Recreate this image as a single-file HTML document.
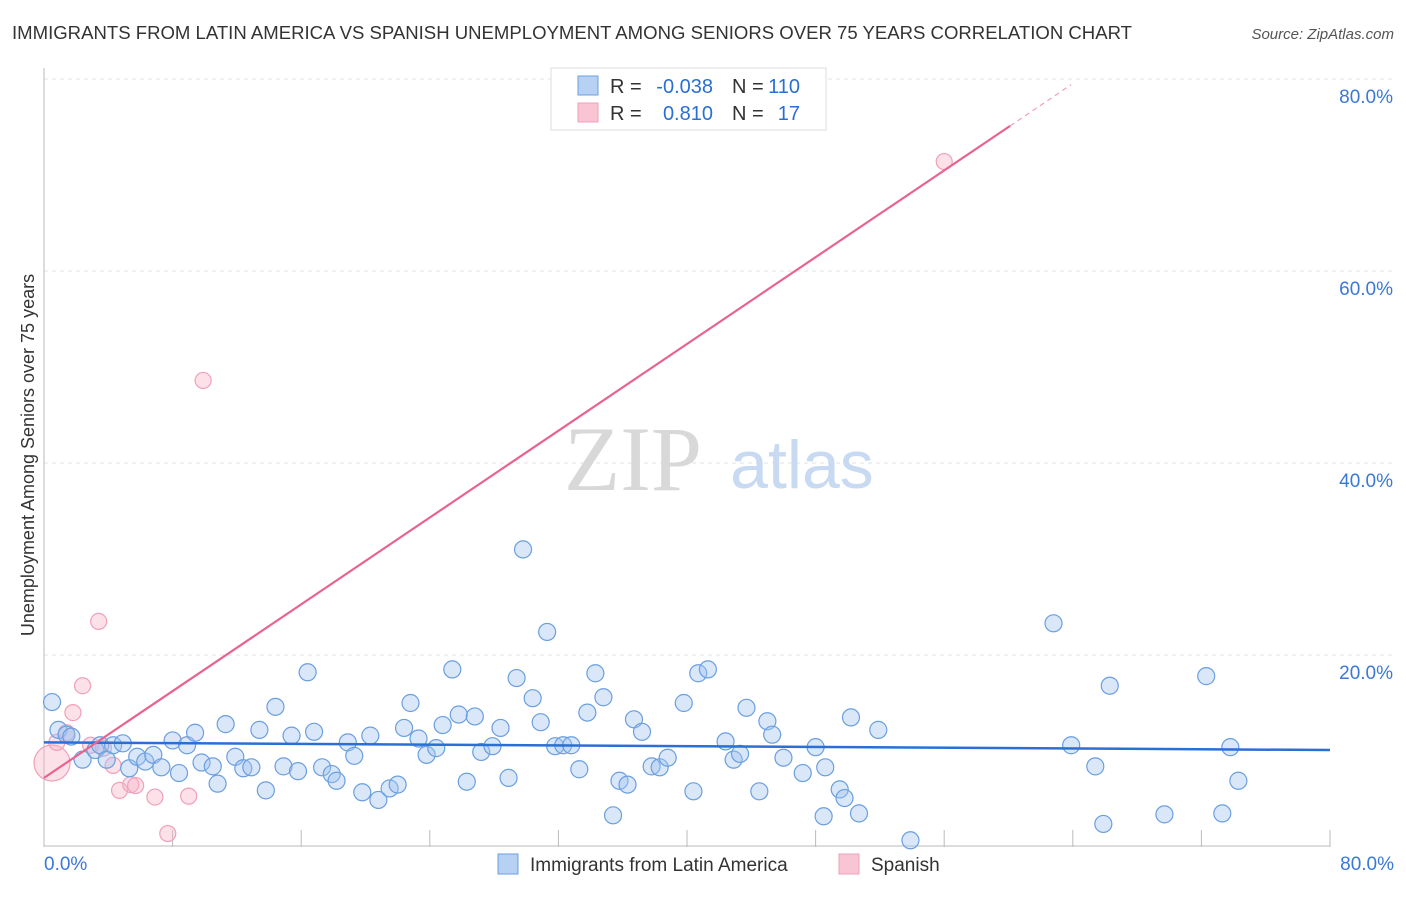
<!DOCTYPE html>
<html><head><meta charset="utf-8"><style>
body{margin:0;background:#fff;font-family:"Liberation Sans",sans-serif;}
</style></head><body>
<svg id="chart" width="1406" height="892" xmlns="http://www.w3.org/2000/svg" font-family="Liberation Sans, sans-serif">
<text x="12" y="39" font-size="18" fill="#333" textLength="1120" lengthAdjust="spacingAndGlyphs">IMMIGRANTS FROM LATIN AMERICA VS SPANISH UNEMPLOYMENT AMONG SENIORS OVER 75 YEARS CORRELATION CHART</text>
<text x="1394" y="39" font-size="15" fill="#555" font-style="italic" text-anchor="end">Source: ZipAtlas.com</text>
<g id="grid"></g>
<g><text x="633" y="490" font-size="92" fill="#d8d8d8" style="font-family:'Liberation Serif',serif" text-anchor="middle">ZIP</text><text x="802" y="488" font-size="68" fill="#c8d9f2" text-anchor="middle">atlas</text></g>
<g id="marks"></g>
<text transform="translate(34,455) rotate(-90)" font-size="18" fill="#333" text-anchor="middle">Unemployment Among Seniors over 75 years</text>
<g>
<rect x="551" y="68" width="275" height="62" fill="#fff" stroke="#ddd"/>
<rect x="578" y="76" width="20" height="19" fill="#b7d1f5" stroke="#6a9fe0"/>
<rect x="578" y="103" width="20" height="19" fill="#f9c5d5" stroke="#f0a0b8"/>
<text x="610" y="93" font-size="20" fill="#333">R =</text>
<text x="713" y="93" font-size="20" fill="#2a6fd6" text-anchor="end">-0.038</text>
<text x="732" y="93" font-size="20" fill="#333">N =</text>
<text x="800" y="93" font-size="20" fill="#2a6fd6" text-anchor="end">110</text>
<text x="610" y="120" font-size="20" fill="#333">R =</text>
<text x="713" y="120" font-size="20" fill="#2a6fd6" text-anchor="end">0.810</text>
<text x="732" y="120" font-size="20" fill="#333">N =</text>
<text x="800" y="120" font-size="20" fill="#2a6fd6" text-anchor="end">17</text>
</g>
<g>
<rect x="498" y="854" width="20" height="20" fill="#b7d1f5" stroke="#6a9fe0"/>
<text x="530" y="871" font-size="19" fill="#333">Immigrants from Latin America</text>
<rect x="839" y="854" width="20" height="20" fill="#f9c5d5" stroke="#f0a0b8"/>
<text x="871" y="871" font-size="19" fill="#333">Spanish</text>
</g>
</svg>
<script>
const yTicks=[20,40,60,80];
const xTickLabels=["0.0%","80.0%"];
const blueX=[0.5,0.9,1.4,1.7,2.4,3.2,3.5,3.9,4.3,4.9,5.3,5.8,6.3,6.8,7.3,8.0,8.4,8.9,9.4,9.8,10.5,10.8,11.3,11.9,12.4,12.9,13.4,13.8,14.4,14.9,15.4,15.8,16.4,16.8,17.3,17.9,18.2,18.9,19.3,19.8,20.3,20.8,21.5,22.0,22.4,22.8,23.3,23.8,24.4,24.8,25.4,25.8,26.3,26.8,27.2,27.9,28.4,28.9,29.4,29.8,30.4,30.9,31.3,31.8,32.3,32.8,33.3,33.8,34.3,34.8,35.4,35.8,36.3,36.7,37.2,37.8,38.3,38.8,39.8,40.4,40.7,41.3,42.4,42.9,43.3,43.7,44.5,45.0,45.3,46.0,47.2,48.0,48.5,48.6,49.5,49.8,50.2,50.7,51.9,53.9,62.8,63.9,65.4,65.9,66.3,69.7,72.3,73.3,73.8,74.3];
const blueY=[15.1,12.2,11.7,11.5,9.1,10.1,10.6,9.1,10.6,10.8,8.2,9.4,8.9,9.6,8.3,11.1,7.7,10.6,11.9,8.8,8.4,6.6,12.8,9.4,8.2,8.3,12.2,5.9,14.6,8.4,11.6,7.9,18.2,12.0,8.3,7.6,6.9,10.9,9.5,5.7,11.6,4.9,6.1,6.5,12.4,15.0,11.3,9.6,10.3,12.7,18.5,13.8,6.8,13.6,9.9,10.5,12.4,7.2,17.6,31.0,15.5,13.0,22.4,10.5,10.6,10.6,8.1,14.0,18.1,15.6,3.3,6.9,6.5,13.3,12.0,8.4,8.3,9.3,15.0,5.8,18.1,18.5,11.0,9.1,9.7,14.5,5.8,13.1,11.7,9.3,7.7,10.4,3.2,8.3,6.0,5.1,13.5,3.5,12.2,0.7,23.3,10.6,8.4,2.4,16.8,3.4,17.8,3.5,10.4,6.9];
const pinkX=[0.5,0.8,1.4,1.8,2.4,2.9,3.4,3.7,4.3,4.7,5.4,5.7,6.9,7.7,9.0,9.9,56.0];
const pinkY=[8.75,10.9,11.9,14.0,16.8,10.6,23.5,10.3,8.5,5.9,6.5,6.4,5.2,1.4,5.3,48.6,71.4];
const blueTrend=[10.9,10.1];
const pinkTrend=[7.2,1.13];
const X=v=>44+v/80*1286, Y=v=>847-v*9.6;
const NS="http://www.w3.org/2000/svg";
const grid=document.getElementById('grid'), marks=document.getElementById('marks');
function mk(tag,a,parent){const e=document.createElementNS(NS,tag);for(const k in a)e.setAttribute(k,a[k]);parent.appendChild(e);return e;}
yTicks.forEach(t=>{
 const l=mk('line',{x1:44,x2:1394,y1:Y(t),y2:Y(t),stroke:'#e2e2e2','stroke-dasharray':'4,4'},grid);
 
 
 const tx=mk('text',{x:1393,y:Y(t)+24,'font-size':19,fill:'#3a78d8','text-anchor':'end'},grid);
 tx.textContent=t.toFixed(1)+'%';
 
 
});
const ax=mk('line',{x1:44,x2:44,y1:68,y2:847,stroke:'#bbb'},grid);


const bx=mk('line',{x1:44,x2:1330,y1:846,y2:846,stroke:'#bbb'},grid);


for(let i=1;i<=10;i++){const t=mk('line',{x1:X(i*8),x2:X(i*8),y1:830,y2:847,stroke:'#bbb'},grid);
 
 }
[[0,'start',44],[80,'end',1394]].forEach((p,i)=>{const t=mk('text',{x:p[2],y:870,'font-size':19,fill:'#3a78d8','text-anchor':p[1]},grid);t.textContent=xTickLabels[i];
 
 });
pinkX.forEach((x,i)=>{const c=mk('circle',{cx:X(x),cy:Y(pinkY[i]),r:i==0?18:8,fill:'rgba(248,180,200,0.4)',stroke:'#f0a0b8','stroke-width':1.2},marks);
 
 });
blueX.forEach((x,i)=>{const c=mk('circle',{cx:X(x),cy:Y(blueY[i]),r:8.5,fill:'rgba(160,196,240,0.4)',stroke:'#6a9fe0','stroke-width':1.2},marks);
 
 });
const bl=mk('line',{x1:X(0),y1:Y(blueTrend[0]),x2:X(80),y2:Y(blueTrend[1]),stroke:'#2a6fd6','stroke-width':2.5},marks);


const pe=60.1, pd=63.9;
const pl=mk('line',{x1:X(0),y1:Y(pinkTrend[0]),x2:X(pe),y2:Y(pinkTrend[0]+pinkTrend[1]*pe),stroke:'#e8648f','stroke-width':2.2},marks);


const pdl=mk('line',{x1:X(pe),y1:Y(pinkTrend[0]+pinkTrend[1]*pe),x2:X(pd),y2:Y(pinkTrend[0]+pinkTrend[1]*pd),stroke:'#f0a0b8','stroke-width':1.2,'stroke-dasharray':'5,4'},marks);


</script>
</body></html>
